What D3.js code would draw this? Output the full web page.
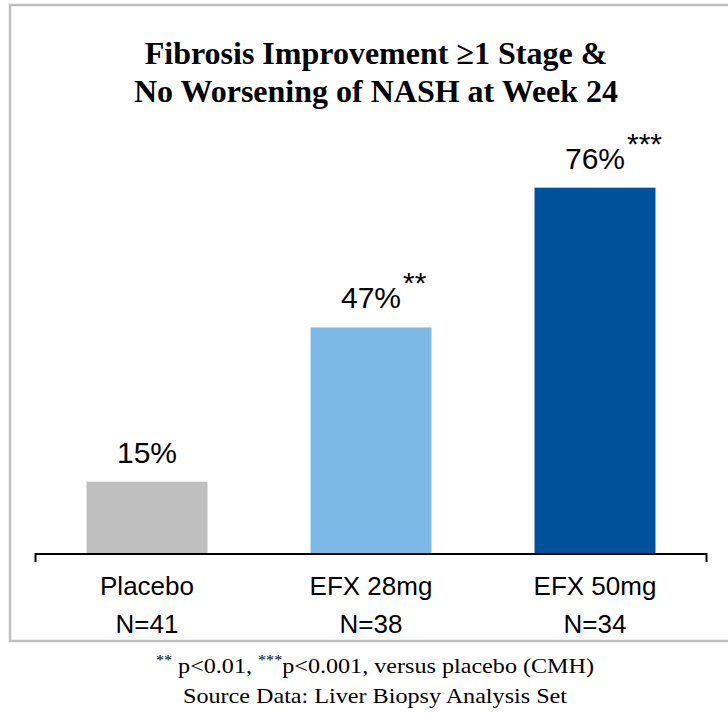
<!DOCTYPE html>
<html><head><meta charset="utf-8">
<script src="https://cdn.jsdelivr.net/npm/d3@7"></script>
<style>html,body{margin:0;padding:0;background:#fff;}</style>
</head><body>
<script>
const categories = ["Placebo", "EFX 28mg", "EFX 50mg"];
const nLabels = ["N=41", "N=38", "N=34"];
const values = [15, 47, 76];
const valueLabels = ["15%", "47%", "76%"];
const significance = ["", "**", "***"];
const colors = ["#BFBFBF", "#7DB9E6", "#00519C"];
const titleLines = ["Fibrosis Improvement \u22651 Stage &", "No Worsening of NASH at Week 24"];

const W = 728, H = 713;
const svg = d3.select("body").append("svg").attr("width", W).attr("height", H);

// frame
svg.append("rect").attr("x", 10).attr("y", 5).attr("width", 740).attr("height", 636)
  .attr("fill", "none").attr("stroke", "#C0C0C0").attr("stroke-width", 2.5);

const x = d3.scaleBand().domain(categories).range([35, 707]).paddingInner(0.46).paddingOuter(0.23);
const y = d3.scaleLinear().domain([0, 100]).range([554, 72]);

// title
svg.append("g").selectAll("text").data(titleLines).join("text")
  .attr("x", 376).attr("y", (d, i) => 64 + i * 38)
  .attr("text-anchor", "middle")
  .attr("font-family", "Liberation Serif, Times New Roman, serif")
  .attr("font-weight", "bold").attr("font-size", 32)
  .text(d => d);

// bars
svg.append("g").selectAll("rect").data(values).join("rect")
  .attr("x", (d, i) => x(categories[i]))
  .attr("width", x.bandwidth())
  .attr("y", d => y(d))
  .attr("height", d => y(0) - y(d))
  .attr("fill", (d, i) => colors[i]);

// value labels
const lab = svg.append("g").selectAll("text").data(values).join("text")
  .attr("x", (d, i) => x(categories[i]) + x.bandwidth() / 2)
  .attr("y", d => y(d) - 19)
  .attr("text-anchor", "middle")
  .attr("font-family", "Liberation Sans, Arial, sans-serif")
  .attr("font-size", 30).attr("fill", "#000")
  .text((d, i) => valueLabels[i]);

const widths = lab.nodes().map(n => n.getComputedTextLength());

svg.append("g").selectAll("text").data(values).join("text")
  .attr("x", (d, i) => x(categories[i]) + x.bandwidth() / 2 + widths[i] / 2 + 2)
  .attr("y", d => y(d) - 34)
  .attr("text-anchor", "start")
  .attr("font-family", "Liberation Sans, Arial, sans-serif")
  .attr("font-size", 30).attr("fill", "#000")
  .text((d, i) => significance[i]);

// axis
const axis = d3.axisBottom(x).tickSize(0).tickFormat("");
const ag = svg.append("g").attr("transform", "translate(0,554)").call(axis);
ag.select(".domain").remove();
ag.append("path").attr("d", "M35.5,8V0H706.5V8").attr("fill", "none")
  .attr("stroke", "#000").attr("stroke-width", 2);

// category labels
const cl = svg.append("g").selectAll("text").data(categories).join("text")
  .attr("x", d => x(d) + x.bandwidth() / 2)
  .attr("text-anchor", "middle")
  .attr("font-family", "Liberation Sans, Arial, sans-serif")
  .attr("font-size", 26).attr("fill", "#000");
cl.append("tspan").attr("x", d => x(d) + x.bandwidth() / 2).attr("y", 595).text(d => d);
cl.append("tspan").attr("x", d => x(d) + x.bandwidth() / 2).attr("y", 633).text((d, i) => nLabels[i]);

// footnote
const fn = svg.append("g").attr("font-family", "Liberation Serif, Times New Roman, serif")
  .attr("font-size", 21).attr("fill", "#000")
  .attr("transform", "translate(375,0) scale(1.15,1) translate(-375,0)");
const f1 = fn.append("text").attr("x", 375).attr("y", 673).attr("text-anchor", "middle");
f1.append("tspan").attr("font-size", 14).attr("dy", -8).text("**");
f1.append("tspan").attr("dy", 8).text(" p<0.01, ");
f1.append("tspan").attr("font-size", 14).attr("dy", -8).text("***");
f1.append("tspan").attr("dy", 8).text("p<0.001, versus placebo (CMH)");
fn.append("text").attr("x", 375).attr("y", 703).attr("text-anchor", "middle")
  .text("Source Data:  Liver Biopsy Analysis  Set");
</script>
</body></html>
